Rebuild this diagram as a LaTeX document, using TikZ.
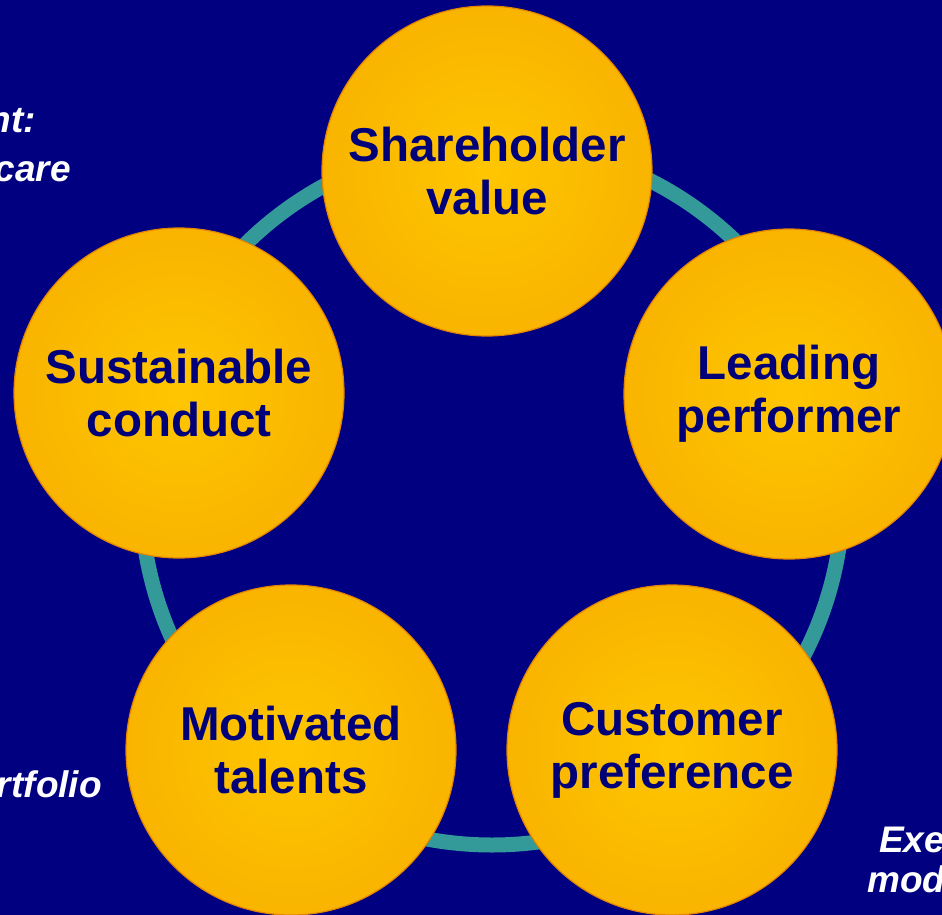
\documentclass[tikz,border=0pt]{standalone}
\usepackage{fontspec}
\setmainfont{Liberation Sans}
\definecolor{bgnavy}{RGB}{0,0,128}
\definecolor{txtnavy}{RGB}{0,0,120}
\definecolor{ringteal}{RGB}{51,153,153}
\definecolor{rimorange}{RGB}{226,132,0}
\pgfdeclareradialshading{ballshade}{\pgfpoint{0bp}{0bp}}{%
  color(0bp)=(rgb,255:red,255;green,198;blue,0);
  color(28bp)=(rgb,255:red,248;green,178;blue,0);
  color(45bp)=(rgb,255:red,240;green,160;blue,0);
  color(50bp)=(rgb,255:red,232;green,142;blue,0)}
\tikzset{
  ball/.style={circle, minimum size=330pt, inner sep=0pt, shading=ballshade,
    draw=rimorange, line width=1.2pt, text=txtnavy, align=center,
    font=\fontsize{47.5}{53}\selectfont\bfseries},
  ringline/.style={draw=ringteal, line width=15pt},
  sidetext/.style={text=white, inner sep=0pt,
    font=\fontsize{37}{44}\selectfont\bfseries\itshape}
}
\begin{document}
\begin{tikzpicture}[x=1pt,y=-1pt]
  % page and background
  \fill[bgnavy] (0,0) rectangle (942,915);
  \useasboundingbox (0,0) rectangle (942,915);

  % teal ring linking the five values
  \coordinate (ringc) at (492,494);
  \draw[ringline] (ringc) circle[radius=351pt];

  % the five value balls
  \node[ball] (sv) at (487,171) {Shareholder\\value};
  \node[ball] (lp) at (789,394) {Leading\\performer};
  \node[ball] (cp) at (672,750) {Customer\\preference};
  \node[ball] (mt) at (291,750) {Motivated\\talents};
  \node[ball] (sc) at (179,393) {Sustainable\\conduct};

  % side captions running off the page
  \node[sidetext, anchor=base east] (capA) at (36,133) {nt:};
  \node[sidetext, anchor=base east] (capB) at (71,181) {care};
  \node[sidetext, anchor=base east] (capC) at (102,797) {rtfolio};
  \node[sidetext, anchor=base west] (capD) at (879,852) {Exe};
  \node[sidetext, anchor=base west] (capE) at (867,892) {mod};
\end{tikzpicture}
\end{document}
